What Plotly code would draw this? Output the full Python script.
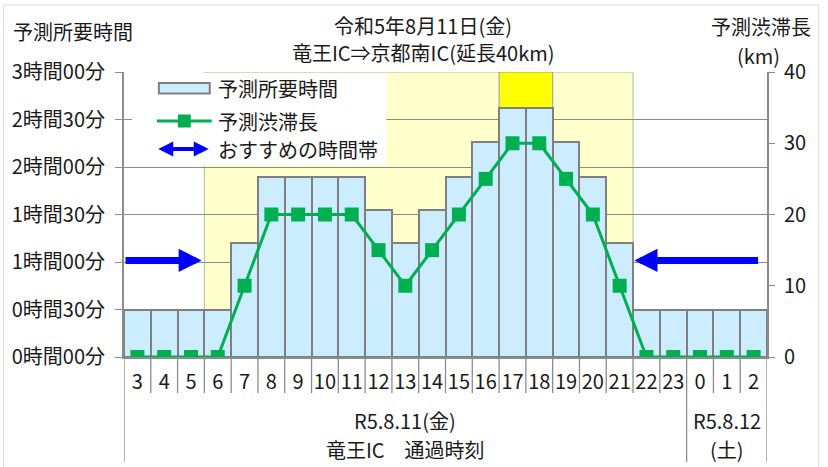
import plotly.graph_objects as go
import numpy as np

# ---------------- data ----------------
hours = ["3", "4", "5", "6", "7", "8", "9", "10", "11", "12", "13", "14", "15",
         "16", "17", "18", "19", "20", "21", "22", "23", "0", "1", "2"]
travel_min = [30, 30, 30, 30, 72, 114, 114, 114, 114, 93, 72, 93, 114,
              136, 157, 157, 136, 114, 72, 30, 30, 30, 30, 30]
jam_km = [0, 0, 0, 0, 10, 20, 20, 20, 20, 15, 10, 15, 20,
          25, 30, 30, 25, 20, 10, 0, 0, 0, 0, 0]
left_tickvals = [0, 30, 60, 90, 120, 150, 180]
left_ticktext = ["0時間00分", "0時間30分", "1時間00分", "1時間30分",
                 "2時間00分", "2時間30分", "3時間00分"]
right_tickvals = [0, 10, 20, 30, 40]
title_lines = ["令和5年8月11日(金)", "竜王IC⇒京都南IC(延長40km)"]
left_title = "予測所要時間"
right_title = ["予測渋滞長", "(km)"]
group_labels = [["R5.8.11(金)", "竜王IC　通過時刻"], ["R5.8.12", "(土)"]]
legend_names = ["予測所要時間", "予測渋滞長", "おすすめの時間帯"]
# band of congestion (hour index ranges) and peak band
band_light = (2.5, 18.5)
band_peak = (13.5, 15.5)
day_split = 20.5
arrow_y = 61

FONT = "Noto Sans CJK JP"
W, H = 828, 467
L, R, T, B = 122, 61, 72, 110
PW, PH = W - L - R, H - T - B
NCAT = len(hours)


def px(x):
    return (x - L) / PW


def py(y):
    return (H - B - y) / PH


def dx(x):
    # pixel -> x data (category index)
    return -0.5 + (x - L) / PW * NCAT


idx = np.arange(NCAT)
GRAY = "#8c8c8c"
GREEN = "#00B050"
BLUE = "#0000FF"
BAR = "#CCECFF"
TXT = "#1a1a1a"

fig = go.Figure()
fig.add_trace(go.Bar(x=idx, y=travel_min, width=1.0,
                     marker=dict(color=BAR, line=dict(color="#7f7f7f", width=2)),
                     name=legend_names[0], showlegend=False))
fig.add_trace(go.Scatter(x=idx, y=jam_km, yaxis="y2", mode="lines+markers",
                         line=dict(color=GREEN, width=3),
                         marker=dict(symbol="square", size=14, color=GREEN),
                         name=legend_names[1], showlegend=False))

shapes = []
# yellow bands (behind grid)
shapes.append(dict(type="rect", xref="x", yref="y", x0=band_light[0], x1=band_light[1],
                   y0=0, y1=180, fillcolor="#FFFFCC", line=dict(color="#b5b5a0", width=1),
                   layer="below"))
shapes.append(dict(type="rect", xref="x", yref="y", x0=band_peak[0], x1=band_peak[1],
                   y0=0, y1=180, fillcolor="#FFFF00", line=dict(color="#9a9a9a", width=1),
                   layer="below"))
# legend white box (above grid, below traces)
shapes.append(dict(type="rect", xref="x", yref="y", x0=dx(130), x1=dx(385),
                   y0=121, y1=179.3, fillcolor="white", line=dict(width=0),
                   layer="between"))
# category boundary lines below axis
for i in range(NCAT + 1):
    b = i - 0.5
    long = b in (-0.5, day_split, NCAT - 0.5)
    shapes.append(dict(type="line", xref="x", yref="paper", x0=b, x1=b,
                       y0=0, y1=py(462) if long else py(393),
                       line=dict(color=GRAY, width=1.3), layer="above"))
# outer border
shapes.append(dict(type="rect", xref="paper", yref="paper", x0=px(1), x1=px(819),
                   y0=py(475), y1=py(5), line=dict(color="#d9d9d9", width=1),
                   fillcolor="rgba(0,0,0,0)", layer="below"))
# legend samples
shapes.append(dict(type="rect", xref="paper", yref="paper", x0=px(157), x1=px(208),
                   y0=py(93.5), y1=py(83), fillcolor=BAR,
                   line=dict(color="#7f7f7f", width=2), layer="above"))
shapes.append(dict(type="line", xref="paper", yref="paper", x0=px(155), x1=px(210),
                   y0=py(121), y1=py(121), line=dict(color=GREEN, width=3), layer="above"))
shapes.append(dict(type="rect", xref="paper", yref="paper", x0=px(176), x1=px(189),
                   y0=py(127.5), y1=py(114.5), fillcolor=GREEN,
                   line=dict(width=0), layer="above"))

annotations = []
# recommended time arrows
annotations.append(dict(x=2.4, y=arrow_y, xref="x", yref="y", ax=-0.5, ay=arrow_y,
                        axref="x", ayref="y", showarrow=True, arrowhead=2,
                        arrowsize=0.66, arrowwidth=7, arrowcolor=BLUE, text="",
                        standoff=0))
annotations.append(dict(x=18.55, y=arrow_y, xref="x", yref="y", ax=23.22, ay=arrow_y,
                        axref="x", ayref="y", showarrow=True, arrowhead=2,
                        arrowsize=0.66, arrowwidth=7, arrowcolor=BLUE, text="",
                        standoff=0))
# legend arrow sample (double headed)
annotations.append(dict(x=px(207), y=py(149), xref="paper", yref="paper",
                        ax=-52, ay=0, axref="pixel", ayref="pixel",
                        showarrow=True, arrowhead=2, startarrowhead=2, arrowside="end+start",
                        arrowsize=0.75, startarrowsize=0.75, arrowwidth=4, arrowcolor=BLUE,
                        text="", standoff=0, startstandoff=0))
# legend texts
for name, yy in zip(legend_names, [89, 121, 149]):
    annotations.append(dict(x=px(214), y=py(yy), xref="paper", yref="paper",
                            text=name, showarrow=False, xanchor="left", yanchor="middle",
                            font=dict(family=FONT, size=20, color=TXT)))
# titles
annotations.append(dict(x=px(422), y=py(26), xref="paper", yref="paper", text=title_lines[0],
                        showarrow=False, xanchor="center", yanchor="middle",
                        font=dict(family=FONT, size=20, color=TXT)))
annotations.append(dict(x=px(422), y=py(52), xref="paper", yref="paper", text=title_lines[1],
                        showarrow=False, xanchor="center", yanchor="middle",
                        font=dict(family=FONT, size=20, color=TXT)))
annotations.append(dict(x=px(9), y=py(31), xref="paper", yref="paper", text=left_title,
                        showarrow=False, xanchor="left", yanchor="middle",
                        font=dict(family=FONT, size=20, color=TXT)))
annotations.append(dict(x=px(813), y=py(27), xref="paper", yref="paper", text=right_title[0],
                        showarrow=False, xanchor="right", yanchor="middle",
                        font=dict(family=FONT, size=20, color=TXT)))
annotations.append(dict(x=px(758), y=py(55), xref="paper", yref="paper", text=right_title[1],
                        showarrow=False, xanchor="center", yanchor="middle",
                        font=dict(family=FONT, size=20, color=TXT)))
# group labels under x axis
for (l1, l2), (a, b) in zip(group_labels, [(-0.5, day_split), (day_split, NCAT - 0.5)]):
    c = (a + b) / 2
    annotations.append(dict(x=c, y=py(420), xref="x", yref="paper", text=l1,
                            showarrow=False, xanchor="center", yanchor="middle",
                            font=dict(family=FONT, size=20, color=TXT)))
    annotations.append(dict(x=c, y=py(449), xref="x", yref="paper", text=l2,
                            showarrow=False, xanchor="center", yanchor="middle",
                            font=dict(family=FONT, size=20, color=TXT)))

fig.update_layout(
    width=W, height=H,
    margin=dict(l=L, r=R, t=T, b=B, pad=0),
    paper_bgcolor="white", plot_bgcolor="white",
    font=dict(family=FONT, size=20, color=TXT),
    bargap=0,
    showlegend=False,
    shapes=shapes,
    annotations=annotations,
    xaxis=dict(range=[-0.5, NCAT - 0.5], tickvals=idx, ticktext=hours,
               showgrid=False, zeroline=False, showline=True, linecolor=GRAY, linewidth=1.5,
               ticks="outside", ticklen=6, tickcolor="rgba(0,0,0,0)",
               tickfont=dict(family=FONT, size=20, color=TXT)),
    yaxis=dict(range=[0, 180], tickvals=left_tickvals, ticktext=left_ticktext,
               showgrid=True, gridcolor=GRAY, gridwidth=1, zeroline=False,
               showline=True, linecolor=GRAY, linewidth=2,
               ticks="outside", ticklen=7, tickcolor=GRAY, ticklabelstandoff=6,
               tickfont=dict(family=FONT, size=20, color=TXT)),
    yaxis2=dict(range=[0, 40], tickvals=right_tickvals, overlaying="y", side="right",
                showgrid=False, zeroline=False, showline=True, linecolor=GRAY, linewidth=2,
                ticks="outside", ticklen=6, tickcolor=GRAY, ticklabelstandoff=5,
                tickfont=dict(family=FONT, size=20, color=TXT)),
)

fig.write_html("out.html", config={"displayModeBar": False},
               post_script="document.body.style.margin='0';document.body.style.overflow='hidden';")
